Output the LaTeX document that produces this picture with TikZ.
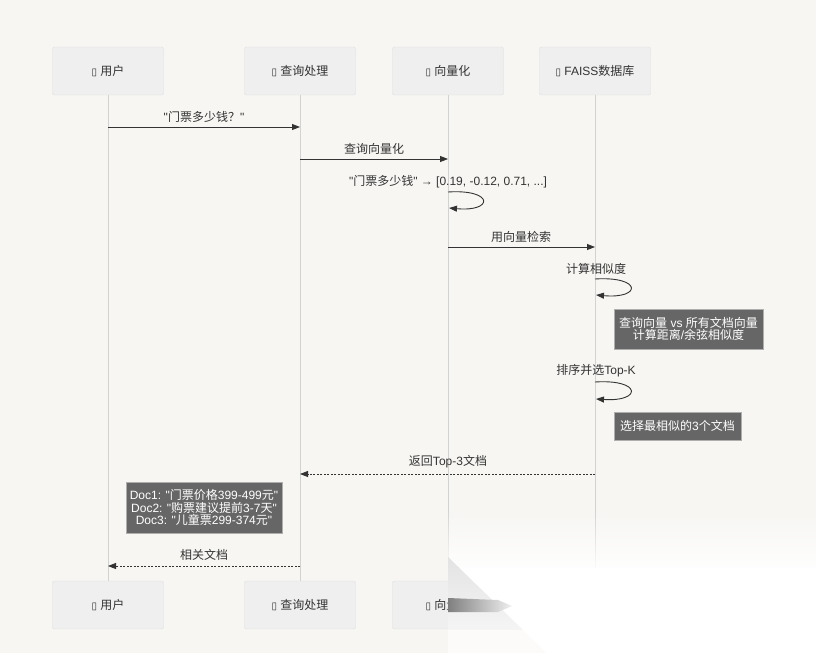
\documentclass[tikz,border=0pt]{standalone}
\usepackage{fontspec}
\newfontfamily\latinfont{Liberation Sans}
\newfontfamily\cjkfont{Noto Sans CJK SC}
\newfontfamily\symfont{DejaVu Sans}
\XeTeXinterchartokenstate=1
\newXeTeXintercharclass\CJKcls
\newcount\cjkcnt
\cjkcnt="4E00
\loop \XeTeXcharclass\cjkcnt=\CJKcls \ifnum\cjkcnt<"9FFF \advance\cjkcnt by 1 \repeat
\cjkcnt="FF01
\loop \XeTeXcharclass\cjkcnt=\CJKcls \ifnum\cjkcnt<"FF5E \advance\cjkcnt by 1 \repeat
\cjkcnt="3000
\loop \XeTeXcharclass\cjkcnt=\CJKcls \ifnum\cjkcnt<"303F \advance\cjkcnt by 1 \repeat
\XeTeXinterchartoks 0 \CJKcls = {\cjkfont}
\XeTeXinterchartoks 4095 \CJKcls = {\cjkfont}
\XeTeXinterchartoks \CJKcls 0 = {\latinfont}
\XeTeXinterchartoks \CJKcls 4095 = {\latinfont}
\usetikzlibrary{arrows.meta,fadings}
\definecolor{bgc}{HTML}{F7F6F3}
\definecolor{boxfill}{HTML}{EFEFEF}
\definecolor{boxline}{HTML}{DEDEDE}
\definecolor{lifec}{HTML}{D2D2D2}
\definecolor{ink}{HTML}{333333}
\definecolor{notec}{HTML}{666666}
\newcommand{\tofu}{{\symfont\fontsize{10}{10}\selectfont ▯}}
\begin{document}
\begin{tikzpicture}[x=1pt,y=-1pt,
  font=\latinfont\fontsize{12}{13}\selectfont,
  actor/.style={draw=boxline,fill=boxfill,rounded corners=2pt,minimum width=111pt,minimum height=48pt,text=ink,inner sep=0pt},
  life/.style={draw=lifec,line width=0.9pt},
  msg/.style={draw=ink,line width=0.9pt,-{Triangle[length=8pt,width=6pt]}},
  ret/.style={msg,dash pattern=on 2pt off 1.5pt},
  lbl/.style={text=ink,inner sep=0pt},
  note/.style={fill=notec,draw=boxline!60!notec,text=white,inner sep=0pt,align=center,font=\latinfont\fontsize{12}{12.5}\selectfont}
]
\useasboundingbox (0,0) rectangle (816,653);
\fill[bgc] (0,0) rectangle (816,653);

% actors
\node[actor] (u1) at (108,71) {\tofu\ 用户};
\node[actor] (q1) at (300,71) {\tofu\ 查询处理};
\node[actor] (v1) at (448,71) {\tofu\ 向量化};
\node[actor] (f1) at (595,71) {\tofu\ FAISS数据库};
\node[actor] (u2) at (108,605) {\tofu\ 用户};
\node[actor] (q2) at (300,605) {\tofu\ 查询处理};
\node[actor] (v2) at (448,605) {\tofu\ 向量化};
\node[actor] (f2) at (595,605) {\tofu\ FAISS数据库};

% lifelines
\draw[life] (u1.south) -- (u2.north);
\draw[life] (q1.south) -- (q2.north);
\draw[life] (v1.south) -- (v2.north);
\draw[life] (f1.south) -- (f2.north);

% message anchors
\coordinate (a1) at (108,127); \coordinate (b1) at (300,127);
\coordinate (a2) at (300,159); \coordinate (b2) at (448,159);
\coordinate (s1a) at (448,192); \coordinate (s1b) at (449,208);
\coordinate (a3) at (448,247); \coordinate (b3) at (595,247);
\coordinate (s2a) at (595,279); \coordinate (s2b) at (596,295);
\coordinate (s3a) at (595,382); \coordinate (s3b) at (596,399);
\coordinate (a4) at (595,474); \coordinate (b4) at (300,474);
\coordinate (a5) at (300,566); \coordinate (b5) at (108,566);

\draw[msg] (a1) -- (b1);
\node[lbl] (t1) at (204,117) {"门票多少钱？"};
\draw[msg] (a2) -- (b2);
\node[lbl] (t2) at (374,149) {查询向量化};
\draw[msg] (s1a) .. controls (494,189) and (494,212) .. (s1b);
\node[lbl] (t3) at (448,182) {"门票多少钱" → [0.19, -0.12, 0.71, ...]};
\draw[msg] (a3) -- (b3);
\node[lbl] (t4) at (521,237) {用向量检索};
\draw[msg] (s2a) .. controls (642,276) and (642,299) .. (s2b);
\node[lbl] (t5) at (596,269) {计算相似度};
\node[note,minimum width=149pt,minimum height=40pt] (n1) at (688.5,329) {查询向量 vs 所有文档向量\\计算距离/余弦相似度};
\draw[msg] (s3a) .. controls (642,379) and (642,402) .. (s3b);
\node[lbl] (t6) at (596,371) {排序并选Top-K};
\node[note,minimum width=127pt,minimum height=28pt] (n2) at (677.5,426) {选择最相似的3个文档};
\draw[ret] (a4) -- (b4);
\node[lbl] (t7) at (448,462) {返回Top-3文档};
\node[note,minimum width=156pt,minimum height=51pt] (n3) at (204,507.5) {Doc1: "门票价格399-499元"\\Doc2: "购票建议提前3-7天"\\Doc3: "儿童票299-374元"};
\draw[ret] (a5) -- (b5);
\node[lbl] (t8) at (204,555) {相关文档};

% page curl overlay
\fill[white,path fading=north] (448,510) -- (816,510) -- (816,575) -- (466,575) -- (448,557) -- cycle;
\fill[white] (459,568) -- (816,568) -- (816,653) -- (546,653) -- cycle;
\shade[top color=black!11, bottom color=white!96!black] (448,557) -- (523,630) -- (448,630) -- cycle;
\shade[left color=black!50, right color=white!94!black] (448,598) -- (498,600) -- (512,606) -- (498,612) -- (448,612) -- cycle;
\fill[bgc!40!white] (448,630) -- (523,630) -- (546,653) -- (448,653) -- cycle;
\end{tikzpicture}
\end{document}
